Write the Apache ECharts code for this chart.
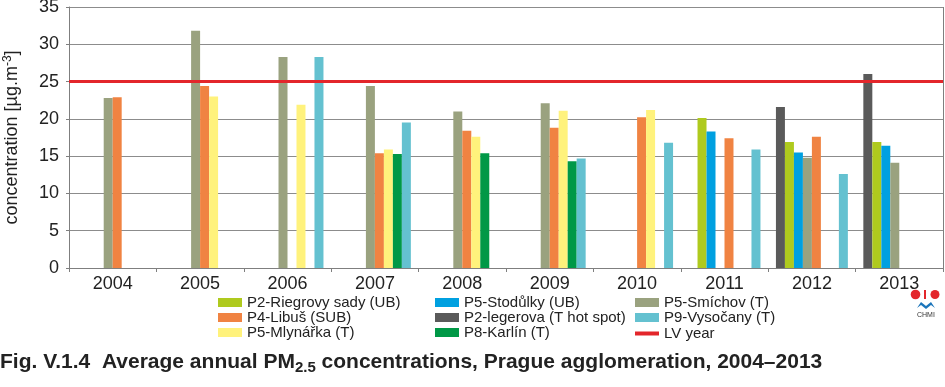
<!DOCTYPE html>
<html>
<head>
<meta charset="utf-8">
<script src="https://cdn.jsdelivr.net/npm/echarts@6/dist/echarts.min.js"></script>
<style>
html,body{margin:0;padding:0;background:#fff;}
#chart{width:945px;height:387px;}
</style>
</head>
<body>
<div id="chart"></div>
<script>
var years = ['2004','2005','2006','2007','2008','2009','2010','2011','2012','2013'];
var yTicks = [0,5,10,15,20,25,30,35];
var limitValue = 25;

var legerova  = [null,null,null,null,null,null,null,null,21.6,26.0];
var riegrovy  = [null,null,null,null,null,null,null,20.1,16.9,16.9];
var stodulky  = [null,null,null,null,null,null,null,18.3,15.5,16.4];
var smichov   = [22.8,31.8,28.3,24.4,21.0,22.1,null,null,14.8,14.1];
var libus     = [22.9,24.4,null,15.4,18.4,18.8,20.2,17.4,17.6,null];
var mlynarka  = [null,23.0,21.9,15.9,17.6,21.1,21.2,null,null,null];
var karlin    = [null,null,null,15.3,15.4,14.3,null,null,null,null];
var vysocany  = [null,null,28.3,19.5,null,14.7,16.8,15.9,12.6,null];

var FONT = '"Liberation Sans", Arial, sans-serif';

function bar(name, data, color){
  return {
    name: name, type: 'bar', data: data,
    barGap: '0%', barCategoryGap: '17.7%',
    itemStyle: {color: color},
    emphasis: {disabled: true}
  };
}

var series = [
  bar('P2-legerova (T hot spot)', legerova, '#5a5a5a'),
  bar('P2-Riegrovy sady (UB)', riegrovy, '#afca1e'),
  bar('P5-Stodůlky (UB)', stodulky, '#00a0e0'),
  bar('P5-Smíchov (T)', smichov, '#9aa27f'),
  bar('P4-Libuš (SUB)', libus, '#f08342'),
  bar('P5-Mlynářka (T)', mlynarka, '#fff27c'),
  bar('P8-Karlín (T)', karlin, '#009846'),
  bar('P9-Vysočany (T)', vysocany, '#64c1d0'),
  {
    name: 'LV year', type: 'line', data: [],
    itemStyle: {color: '#e3262b'},
    lineStyle: {color: '#e3262b', width: 3},
    markLine: {
      silent: true, symbol: 'none', animation: false,
      label: {show: false},
      lineStyle: {color: '#e3262b', width: 3, type: 'solid'},
      data: [{yAxis: limitValue}]
    }
  }
];

function legend(left, top, names, h){
  return {
    orient: 'vertical', left: left, top: top, padding: 0,
    itemWidth: 24, itemHeight: h || 9, itemGap: 0,
    icon: 'rect', selectedMode: false,
    textStyle: {fontFamily: FONT, fontSize: 15, color: '#222'},
    data: names
  };
}

var option = {
  animation: false,
  backgroundColor: '#fff',
  grid: {left: 69, right: 2, top: 7, bottom: 119, containLabel: false, outerBoundsMode: 'none'},
  title: {
    left: 0, top: 350, padding: 0,
    text: 'Fig. V.1.4  Average annual PM{sub|2.5} concentrations, Prague agglomeration, 2004–2013',
    textStyle: {
      fontFamily: FONT, fontSize: 21, fontWeight: 'bold', color: '#222',
      rich: {sub: {fontFamily: FONT, fontSize: 15, fontWeight: 'bold', color: '#222', padding: [10,0,0,0]}}
    }
  },
  legend: [
    legend(218, 295, ['P2-Riegrovy sady (UB)','P4-Libuš (SUB)','P5-Mlynářka (T)']),
    legend(435, 295, ['P5-Stodůlky (UB)','P2-legerova (T hot spot)','P8-Karlín (T)']),
    legend(635, 295, ['P5-Smíchov (T)','P9-Vysočany (T)']),
    legend(635, 326, ['LV year'], 4)
  ],
  xAxis: {
    type: 'category', data: years,
    axisLine: {lineStyle: {color: '#7f7f7f', width: 1}},
    axisTick: {show: true, alignWithLabel: false, length: 4, lineStyle: {color: '#7f7f7f'}},
    axisLabel: {fontFamily: FONT, fontSize: 18, color: '#222', margin: 7},
    splitLine: {show: false}
  },
  yAxis: {
    type: 'value', min: yTicks[0], max: yTicks[yTicks.length-1], interval: 5,
    name: 'concentration [µg.m{sup|-3}]',
    nameLocation: 'middle', nameRotate: 90, nameGap: 47,
    nameTextStyle: {
      fontFamily: FONT, fontSize: 18, color: '#222',
      rich: {sup: {fontFamily: FONT, fontSize: 12, color: '#222', padding: [0,0,8,0]}}
    },
    axisLine: {show: true, lineStyle: {color: '#7f7f7f', width: 1}},
    axisTick: {show: true, length: 3, lineStyle: {color: '#7f7f7f'}},
    axisLabel: {fontFamily: FONT, fontSize: 18, color: '#222', margin: 10},
    splitLine: {lineStyle: {color: '#8c8c8c', width: 1}}
  },
  graphic: [
    {type: 'line', shape: {x1: 943.5, y1: 7, x2: 943.5, y2: 268}, style: {stroke: '#7f7f7f', lineWidth: 1}},
    {type: 'circle', shape: {cx: 915.5, cy: 294.5, r: 4.8}, style: {fill: '#e3262b'}},
    {type: 'circle', shape: {cx: 935, cy: 294.5, r: 4.5}, style: {fill: '#e3262b'}},
    {type: 'rect', shape: {x: 924, y: 290, width: 2, height: 9}, style: {fill: '#e3262b'}},
    {type: 'polygon', shape: {points: [[917,308],[921,302],[926,306],[931,302],[935,308],[931,305],[926,309],[921,305]]}, style: {fill: '#1b75bb'}},
    {type: 'text', left: 917, top: 312, style: {text: 'CHMI', font: '7px ' + FONT, fill: '#333'}}
  ],
  series: series
};

var chart = echarts.init(document.getElementById('chart'), null, {renderer: 'canvas'});
chart.setOption(option);
</script>
</body>
</html>
